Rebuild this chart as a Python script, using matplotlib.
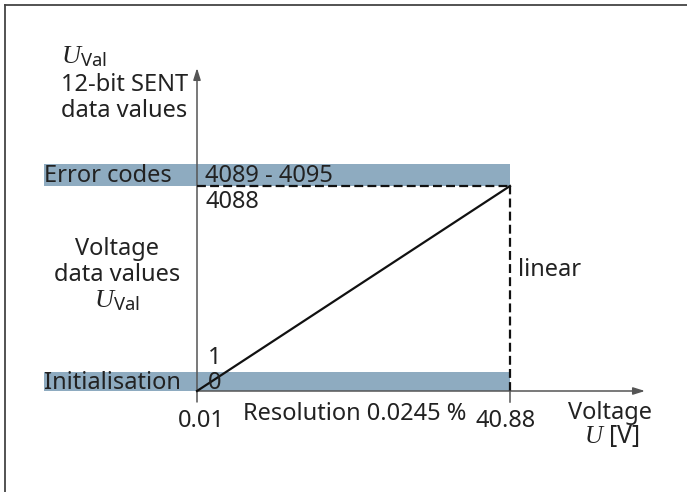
import matplotlib.pyplot as plt
from matplotlib.patches import Rectangle
import matplotlib.transforms as mtransforms

# Transfer characteristic: voltage -> 12-bit SENT data value
VOLTAGE = [0.01, 40.88]
CODES = [0, 4088]
VOLTAGE_LABELS = ["0.01", "40.88"]
CODE_LABELS = ["0", "1", "4088", "4089 - 4095"]
BAND_NAMES = ["Error codes", "Initialisation"]
BAND_BASE = [4088, 0]

plt.rcParams["font.family"] = ["Noto Sans", "DejaVu Sans"]
plt.rcParams["mathtext.fontset"] = "custom"
plt.rcParams["mathtext.it"] = "Liberation Serif:italic"
plt.rcParams["mathtext.rm"] = "Noto Sans"

W, H = 687, 492
TXT = "#222222"
AXC = "#555555"
BAND = "#8eabc0"
FS = 17
DY = 3  # text baseline nudge, pixels


def fx(x):
    return x / W


def fy(y):
    return 1 - y / H


fig = plt.figure(figsize=(W / 100, H / 100), dpi=100)
fig.patch.set_facecolor("white")

# frame (left + top only, picture is cropped)
fig.add_artist(plt.Line2D([fx(4.5), fx(4.5)], [0, fy(4.5)], color="#444444", lw=1.3))
fig.add_artist(plt.Line2D([fx(4.5), 1], [fy(4.5), fy(4.5)], color="#444444", lw=1.3))

ax = fig.add_axes([fx(197), fy(391), (510 - 197) / W, (391 - 186) / H])
ax.set_xlim(VOLTAGE[0], VOLTAGE[1])
ax.set_ylim(CODES[0], CODES[1])
ax.axis("off")

# bands: x in axes fraction, height in pixels above the base code
band_h = {"Error codes": 22, "Initialisation": 19}
for name, base in zip(BAND_NAMES, BAND_BASE):
    trans = mtransforms.blended_transform_factory(ax.transAxes, ax.transData)
    hpx = band_h[name]
    dy = hpx / ax.bbox.height * (CODES[1] - CODES[0])
    ax.add_patch(Rectangle((-(197 - 44) / 313, base), 1 + (197 - 44) / 313, dy,
                           transform=trans, facecolor=BAND, edgecolor="none",
                           clip_on=False, zorder=1))

# axes arrows
ax.annotate("", xy=(fx(197), fy(68)), xytext=(fx(197), fy(402)),
            xycoords="figure fraction", textcoords="figure fraction",
            arrowprops=dict(arrowstyle="-|>,head_length=0.7,head_width=0.22",
                            color=AXC, lw=1.1, shrinkA=0, shrinkB=0), zorder=2)
ax.annotate("", xy=(fx(645), fy(391)), xytext=(fx(197), fy(391)),
            xycoords="figure fraction", textcoords="figure fraction",
            arrowprops=dict(arrowstyle="-|>,head_length=0.7,head_width=0.22",
                            color=AXC, lw=1.1, shrinkA=0, shrinkB=0), zorder=2)
fig.add_artist(plt.Line2D([fx(510), fx(510)], [fy(391), fy(402)], color=AXC, lw=1.1))

# dashed guides and linear characteristic
ax.plot([VOLTAGE[0], VOLTAGE[1]], [CODES[1], CODES[1]], color="#111111", lw=1.6,
        ls=(0, (4, 1.9)), clip_on=False, zorder=3)
ax.plot([VOLTAGE[1], VOLTAGE[1]], [CODES[0], CODES[1]], color="#111111", lw=1.6,
        ls=(0, (4, 1.9)), clip_on=False, zorder=3)
ax.plot(VOLTAGE, CODES, color="#111111", lw=1.6, clip_on=False, zorder=4)

UVAL = r"$\mathit{U}_{\mathrm{Val}}$"


def t(x, y, s, ha="left", size=FS):
    fig.text(fx(x), fy(y + DY), s, ha=ha, va="center", color=TXT, fontsize=size)


# y-axis title
t(61, 53, UVAL, size=FS + 2)
t(61, 82, "12-bit SENT")
t(61, 108, "data values")
t(117, 246, "Voltage", ha="center")
t(117, 272, "data values", ha="center")
t(117, 297, UVAL, ha="center", size=FS + 2)

# bands and code labels
t(44, 173, BAND_NAMES[0])
t(44, 380, BAND_NAMES[1])
t(205, 173, CODE_LABELS[3])
t(205, 199, CODE_LABELS[2])
t(208, 355, CODE_LABELS[1])
t(208, 380, CODE_LABELS[0])
t(518, 267, "linear")

# x-axis labels
t(201, 418, VOLTAGE_LABELS[0], ha="center")
t(506, 418, VOLTAGE_LABELS[1], ha="center")
t(243, 411, "Resolution 0.0245 %")
t(610, 410, "Voltage", ha="center")
t(612, 433, r"$\mathit{U}$ [V]", ha="center", size=FS + 1)

fig.savefig("out.png", dpi=100)
